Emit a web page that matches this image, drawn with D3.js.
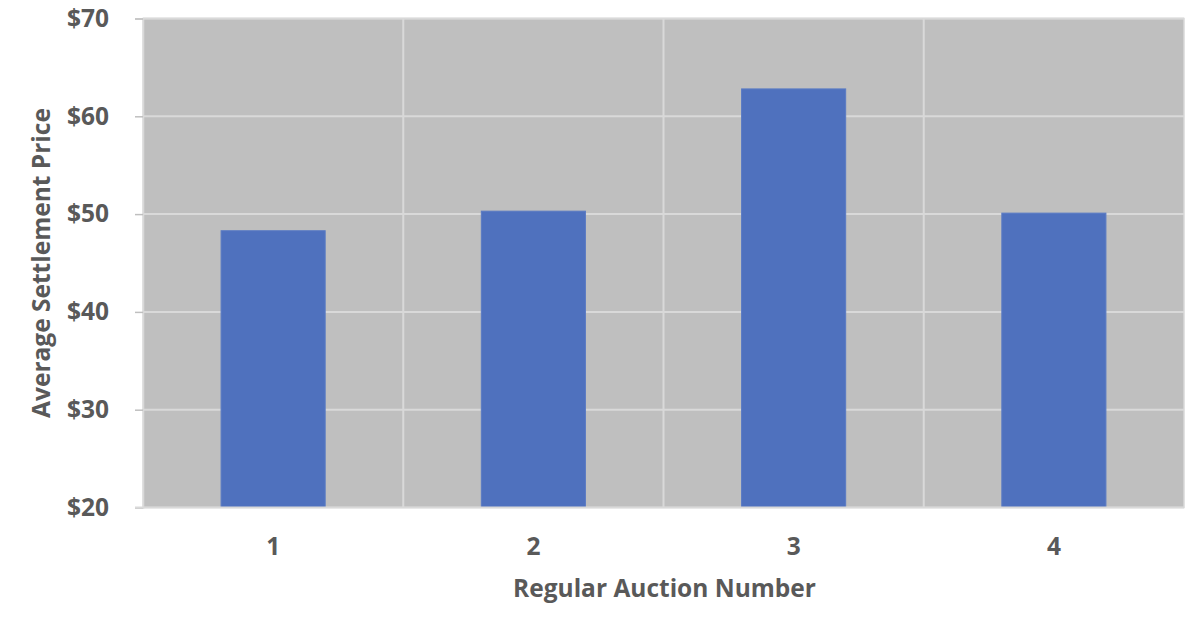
<!DOCTYPE html>
<html><head><meta charset="utf-8">
<script src="https://cdn.jsdelivr.net/npm/d3@7"></script>
<style>body{margin:0;background:#fff}svg{display:block}</style>
</head><body>
<svg id="c" width="1200" height="623"></svg>
<script>
const categories = ["1","2","3","4"];
const values = [48.3, 50.3, 62.8, 50.1];
const yTicks = [20,30,40,50,60,70];
const yLabel = "Average Settlement Price";
const xLabel = "Regular Auction Number";

const svg = d3.select("#c");
const m = {left:143, right:1184, top:18.5, bottom:507.5};
const x = d3.scaleBand().domain(categories).range([m.left,m.right]).paddingInner(0.6).paddingOuter(0.3);
const y = d3.scaleLinear().domain([20,70]).range([m.bottom,m.top]);
const font = "'Open Sans', sans-serif";
const txt = "#595959";
const fs = "24.5px";

svg.append("rect").attr("x",m.left).attr("y",m.top).attr("width",m.right-m.left).attr("height",m.bottom-m.top).attr("fill","#bfbfbf").attr("stroke","#d9d9d9").attr("stroke-width",1.5);

svg.append("g").selectAll("line").data(yTicks.filter(d=>d>20)).join("line")
  .attr("x1",m.left).attr("x2",m.right).attr("y1",d=>y(d)).attr("y2",d=>y(d))
  .attr("stroke","#d9d9d9").attr("stroke-width",2);
const step = x.step();
svg.append("g").selectAll("line").data(categories.slice(1)).join("line")
  .attr("x1",d=>x(d)-x.paddingInner()*step/2).attr("x2",d=>x(d)-x.paddingInner()*step/2)
  .attr("y1",m.top).attr("y2",m.bottom).attr("stroke","#d9d9d9").attr("stroke-width",2);

svg.append("g").selectAll("rect").data(values).join("rect")
  .attr("x",(d,i)=>x(categories[i])).attr("width",x.bandwidth())
  .attr("y",d=>y(d)).attr("height",d=>y(20)-y(d))
  .attr("fill","#4f71be").attr("stroke","#5a7bc4").attr("stroke-width",1);

const ya = d3.axisLeft(y).tickValues(yTicks).tickFormat(d=>"$"+d).tickSize(8).tickPadding(26);
const yg = svg.append("g").attr("transform",`translate(${m.left},0)`).call(ya);
yg.select(".domain").attr("stroke","#d9d9d9").attr("stroke-width",1.5);
yg.selectAll(".tick line").attr("stroke","#bfbfbf").attr("stroke-width",1.5);
yg.selectAll("text").attr("fill",txt).style("font-family",font).style("font-weight","bold").style("font-size",fs);

const xa = d3.axisBottom(x).tickSize(0).tickPadding(30);
const xg = svg.append("g").attr("transform",`translate(0,${m.bottom})`).call(xa);
xg.select(".domain").remove();
xg.selectAll("text").attr("fill",txt).style("font-family",font).style("font-weight","bold").style("font-size",fs);
svg.append("line").attr("x1",m.left-8).attr("x2",m.right).attr("y1",m.bottom).attr("y2",m.bottom).attr("stroke","#d9d9d9").attr("stroke-width",2);

svg.append("text").attr("x",(m.left+m.right)/2+1).attr("y",597).attr("text-anchor","middle")
  .attr("fill",txt).style("font-family",font).style("font-weight","bold").style("font-size",fs).text(xLabel);
svg.append("text").attr("transform","translate(50,263) rotate(-90)").attr("text-anchor","middle")
  .attr("fill",txt).style("font-family",font).style("font-weight","bold").style("font-size",fs).text(yLabel);
</script>
</body></html>
